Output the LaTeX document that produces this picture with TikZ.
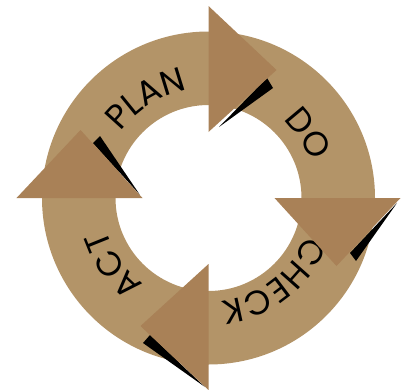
\documentclass[tikz,border=0pt]{standalone}
\usepackage{fontspec}
\newfontfamily\pdcafont{Poppins}
\usetikzlibrary{decorations.text}
\definecolor{ringtan}{RGB}{179,148,104}
\definecolor{arrowtan}{RGB}{169,129,87}
\tikzset{ring/.style={fill=ringtan,even odd rule},head/.style={fill=arrowtan},wedge/.style={fill=black},lbl/.style={decorate,decoration={text along path,text align=center,text={|\pdcafont\fontsize{34}{34}\selectfont|#1}}}}

\begin{document}
\begin{tikzpicture}[x=1pt,y=1pt]
\useasboundingbox (-208.5,-191) rectangle (194.5,198);
\fill[ring] (0,0) circle[radius=166.5] (0,0) circle[radius=93];
% labels, clockwise
\path[lbl=PLAN] (167:110) arc[start angle=167,end angle=77,radius=110];
\path[lbl=DO] (78:108) arc[start angle=78,end angle=-12,radius=108];
\path[lbl=CHECK] (-7:104) arc[start angle=-7,end angle=-97,radius=104];
\path[lbl=ACT] (260:107) arc[start angle=260,end angle=170,radius=107];
% shadows
\fill[wedge] (10.5,71) -- (58.5,120) -- (64.5,110) -- cycle;
\fill[wedge] (188.5,-5) -- (141.5,-55) -- (147.5,-63) -- cycle;
\fill[wedge] (-3.5,-189) -- (-58.5,-137) -- (-65.5,-145) -- cycle;
\fill[wedge] (-68.5,3) -- (-115.5,55) -- (-108.5,62) -- cycle;
% arrow heads
\foreach \a in {0,-90,-180,-270}{
  \fill[head,rotate=\a] (0,192) -- (68,128) -- (0,66) -- cycle;}
\end{tikzpicture}
\end{document}
